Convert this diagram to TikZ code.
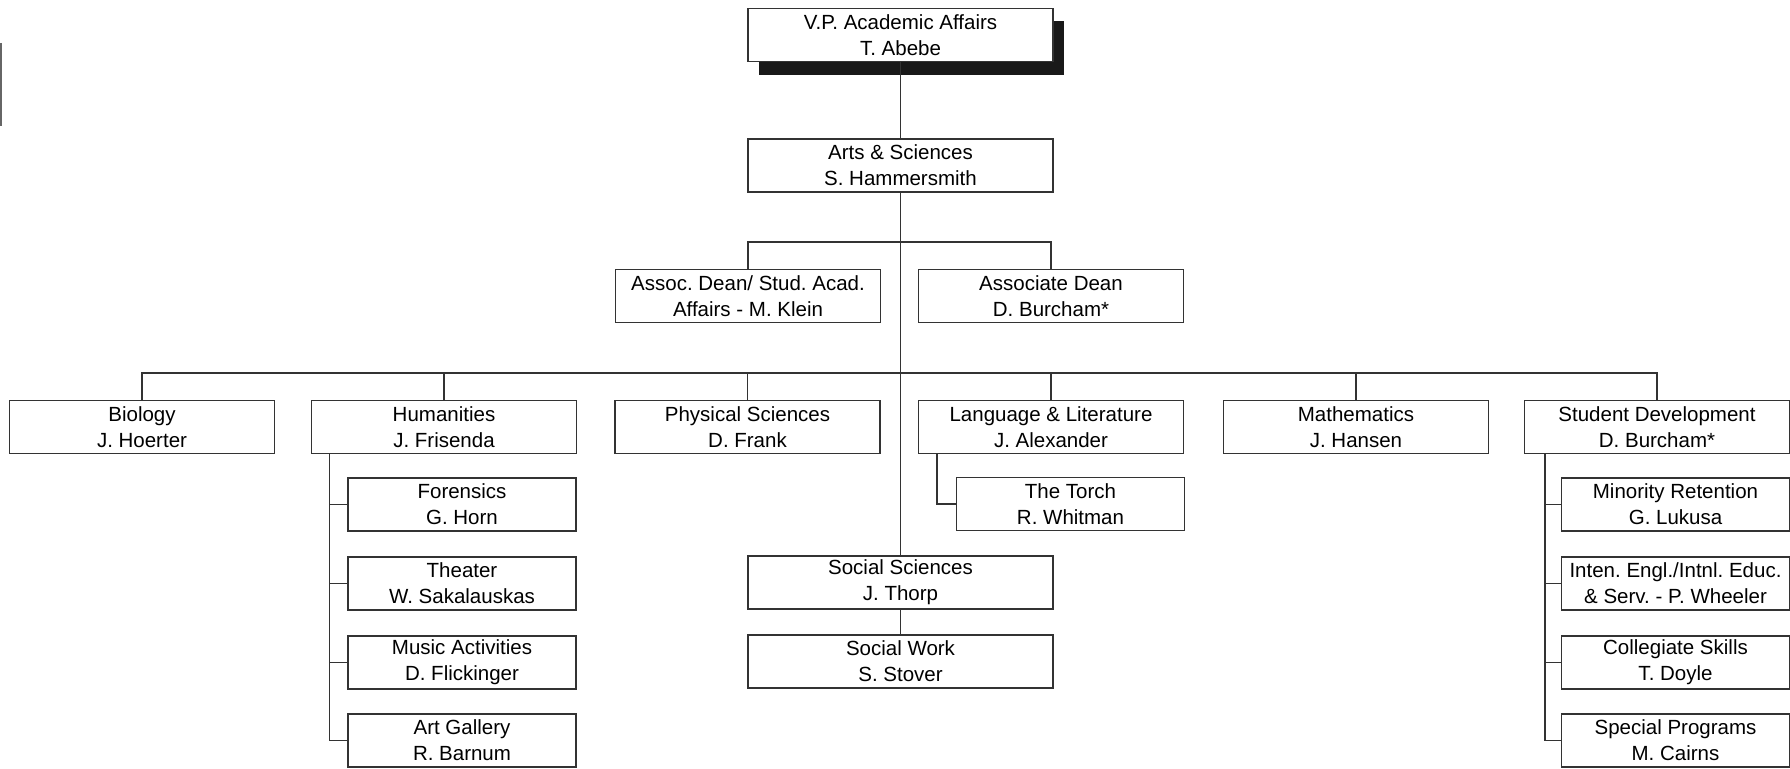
\documentclass[tikz,border=0pt]{standalone}
\usepackage{fontspec}
\setmainfont{Liberation Sans}
\frenchspacing
\usetikzlibrary{shadows}
\begin{document}
\begin{tikzpicture}[x=1pt,y=-1pt,
  box/.style={draw=black!80, line width=1.1pt, fill=white, rectangle, inner sep=0pt,
    minimum height=53pt, align=center, font=\fontsize{20.5pt}{26pt}\selectfont\frenchspacing},
  wide/.style={box, minimum width=305pt},
  mid/.style={box, minimum width=265pt},
  small/.style={box, minimum width=228pt},
  link/.style={draw=black!80, line width=1.1pt},
  shade/.style={drop shadow={shadow xshift=11pt, shadow yshift=-13pt, opacity=1, fill=black!90}}]
\useasboundingbox (0,0) rectangle (1790,768);
% scan mark at left edge
\draw[black!60, line width=2pt] (1,43) -- (1,126);

% nodes
\node[wide, shade] (vp) at (900.5,35) {V.P. Academic Affairs\\T. Abebe};
\node[wide] (arts) at (900.5,165.5) {Arts \& Sciences\\S. Hammersmith};
\node[mid] (ad1) at (748,296) {Assoc. Dean/ Stud. Acad.\\Affairs - M. Klein};
\node[mid] (ad2) at (1051,296) {Associate Dean\\D. Burcham*};

\node[mid] (bio) at (142,427) {Biology\\J. Hoerter};
\node[mid] (hum) at (444,427) {Humanities\\J. Frisenda};
\node[mid] (phy) at (747.5,427) {Physical Sciences\\D. Frank};
\node[mid] (lang) at (1051,427) {Language \& Literature\\J. Alexander};
\node[mid] (math) at (1356,427) {Mathematics\\J. Hansen};
\node[mid] (stud) at (1657,427) {Student Development\\D. Burcham*};

\node[small] (for) at (462,504.5) {Forensics\\G. Horn};
\node[small] (the) at (462,583.5) {Theater\\W. Sakalauskas};
\node[small] (mus) at (462,662.5) {Music Activities\\D. Flickinger};
\node[small] (art) at (462,740.5) {Art Gallery\\R. Barnum};

\node[small] (tor) at (1070.5,504) {The Torch\\R. Whitman};

\node[small] (min) at (1675.5,504.5) {Minority Retention\\G. Lukusa};
\node[small] (int) at (1675.5,583.5) {Inten. Engl./Intnl. Educ.\\\& Serv. - P. Wheeler};
\node[small] (col) at (1675.5,662.5) {Collegiate Skills\\T. Doyle};
\node[small] (spe) at (1675.5,740.5) {Special Programs\\M. Cairns};

\node[wide] (soc) at (900.5,582.5) {Social Sciences\\J. Thorp};
\node[wide] (sw) at (900.5,661.5) {Social Work\\S. Stover};

% connectors
\draw[link] (vp.south) -- (arts.north);
\draw[link] (arts.south) -- (soc.north);
\draw[link] (ad1.north) -- ++(0,-27) -| (ad2.north);
\draw[link] (bio.north) -- ++(0,-27) -| (stud.north);
\foreach \n in {hum,phy,lang,math} \draw[link] (\n.north) -- ++(0,-27);
\foreach \c in {for,the,mus,art} \draw[link] ([xshift=18.5pt]hum.south west) |- (\c.west);
\draw[link] ([xshift=19pt]lang.south west) |- (tor.west);
\foreach \c in {min,int,col,spe} \draw[link] ([xshift=21pt]stud.south west) |- (\c.west);
\draw[link] (soc.south) -- (sw.north);
\end{tikzpicture}
\end{document}
